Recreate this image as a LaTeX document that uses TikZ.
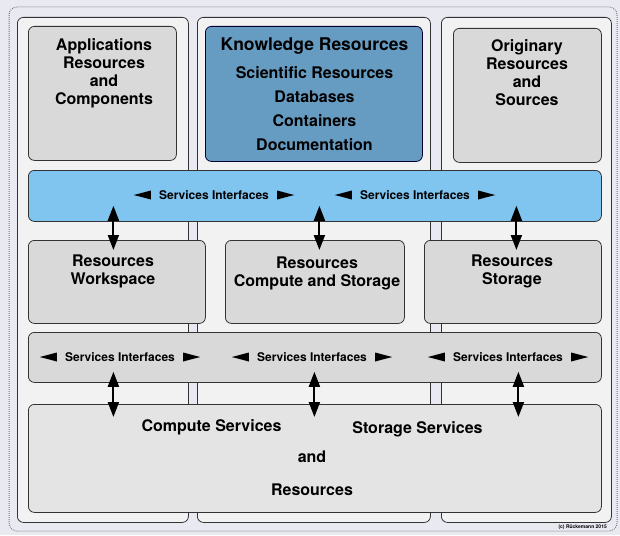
\documentclass[tikz,border=0pt]{standalone}
\usepackage{fontspec}
\setmainfont{TeX Gyre Heros}
\usetikzlibrary{positioning,calc,arrows.meta}
\definecolor{pagebg}{HTML}{E9E9F2}
\definecolor{colfill}{HTML}{F2F2F2}
\definecolor{boxgrey}{HTML}{D9D9D9}
\definecolor{basegrey}{HTML}{E4E4E4}
\definecolor{knowblue}{HTML}{679CC2}
\definecolor{ifaceblue}{HTML}{80C4F0}
\definecolor{edge}{HTML}{333333}

\begin{document}
\begin{tikzpicture}[x=1pt, y=-1pt,
	font=\bfseries\fontsize{16}{18}\selectfont,
	column/.style={draw=edge, fill=colfill, line width=0.8pt, rounded corners=6pt, anchor=north west, inner sep=0pt},
	greybox/.style={draw=edge, fill=boxgrey, line width=0.8pt, rounded corners=6pt, anchor=north west, inner sep=0pt},
	bluebar/.style={greybox, fill=ifaceblue},
	knowbox/.style={greybox, fill=knowblue, draw=black!80!blue},
	basebox/.style={greybox, fill=basegrey},
	txt/.style={align=center, inner sep=0pt},
	iface/.style={inner sep=0pt, font=\bfseries\fontsize{12}{14}\selectfont},
	dbl/.style={{Triangle[length=15pt,width=11pt]}-{Triangle[length=15pt,width=11pt]}, line width=2pt}]

	\useasboundingbox[fill=pagebg] (0,0) rectangle (620,535);
	\draw[black!55, dash pattern=on 0.8pt off 1.2pt, line width=1pt, rounded corners=8pt] (9,7) rectangle (617,531);

	% columns
	\node[column, minimum width=171, minimum height=505] (colA) at (17,17) {};
	\node[column, minimum width=233, minimum height=505] (colB) at (197,17) {};
	\node[column, minimum width=170, minimum height=505] (colC) at (441,17) {};

	% top row
	\node[greybox, minimum width=148, minimum height=134] (apps) at (28,26) {};
	\node[knowbox, minimum width=217, minimum height=135] (know) at (205,26) {};
	\node[greybox, minimum width=148, minimum height=134] (orig) at (453,28) {};

	\node[txt] (appsText) at (104,73) {Applications\\Resources\\and\\Components};
	\node[txt, font=\bfseries\fontsize{17.5}{20}\selectfont] (knowTitle) at (314.5,46) {Knowledge Resources};
	\node[txt, font=\bfseries\fontsize{16}{24}\selectfont] (knowList) at (314.5,109) {Scientific Resources\\Databases\\Containers\\Documentation};
	\node[txt] (origText) at (527,73) {Originary\\Resources\\and\\Sources};

	% services bar (upper)
	\node[bluebar, minimum width=573, minimum height=51] (ifaceTop) at (28,170) {};

	% middle row
	\node[greybox, minimum width=177, minimum height=83] (ws) at (28,240) {};
	\node[greybox, minimum width=179, minimum height=83] (cs) at (225,240) {};
	\node[greybox, minimum width=177, minimum height=83] (rs) at (424,240) {};

	\node[txt] (wsText) at (113,271) {Resources\\Workspace};
	\node[txt] (csText) at (317,273) {Resources\\Compute and Storage};
	\node[txt] (rsText) at (512,271) {Resources\\Storage};

	% services bar (lower)
	\node[greybox, minimum width=573, minimum height=50] (ifaceLow) at (28,332) {};

	% base
	\node[basebox, minimum width=573, minimum height=108] (base) at (28,404) {};
	\node[txt] (compSrv) at (211.5,427) {Compute Services};
	\node[txt] (storSrv) at (417.5,429) {Storage Services};
	\node[txt] (baseAnd) at (312,456.5) {and};
	\node[txt] (baseRes) at (312,490) {Resources};

	% interface labels
	\foreach \n/\x/\y in {si1/214/195, si2/415/195, si3/120/357, si4/312/357, si5/508/357}
	\node[iface] (\n) at (\x,\y) {Services Interfaces};

	\foreach \n in {si1,si2,si3,si4,si5} {
	\fill ([xshift=-8pt]\n.west) -- ++(-17,0) -- ++(17,-4.5) -- cycle;
	\fill ([xshift=-8pt]\n.west) -- ++(-17,0) -- ++(17,4.5) -- cycle;
	\fill ([xshift=8pt]\n.east) -- ++(17,0) -- ++(-17,-4.5) -- cycle;
	\fill ([xshift=8pt]\n.east) -- ++(17,0) -- ++(-17,4.5) -- cycle;
	}

	% arrows
	\foreach \dx/\n in {-201.5/ws, 4.5/cs, 201.5/rs}
	\draw[dbl] ($(ifaceTop.south)+(\dx,-16)$) -- ($(ifaceTop.south |- \n.north)+(\dx,10)$);

	\foreach \dx in {-201.5, -0.5, 203.5}
	\draw[dbl] ($(ifaceLow.south)+(\dx,-11)$) -- ($(ifaceLow.south |- base.north)+(\dx,13)$);

	\node[inner sep=0pt, anchor=east, font=\bfseries\fontsize{5}{6}\selectfont] (copy) at (607,527) {(c) Rückemann 2015};

\end{tikzpicture}
\end{document}
